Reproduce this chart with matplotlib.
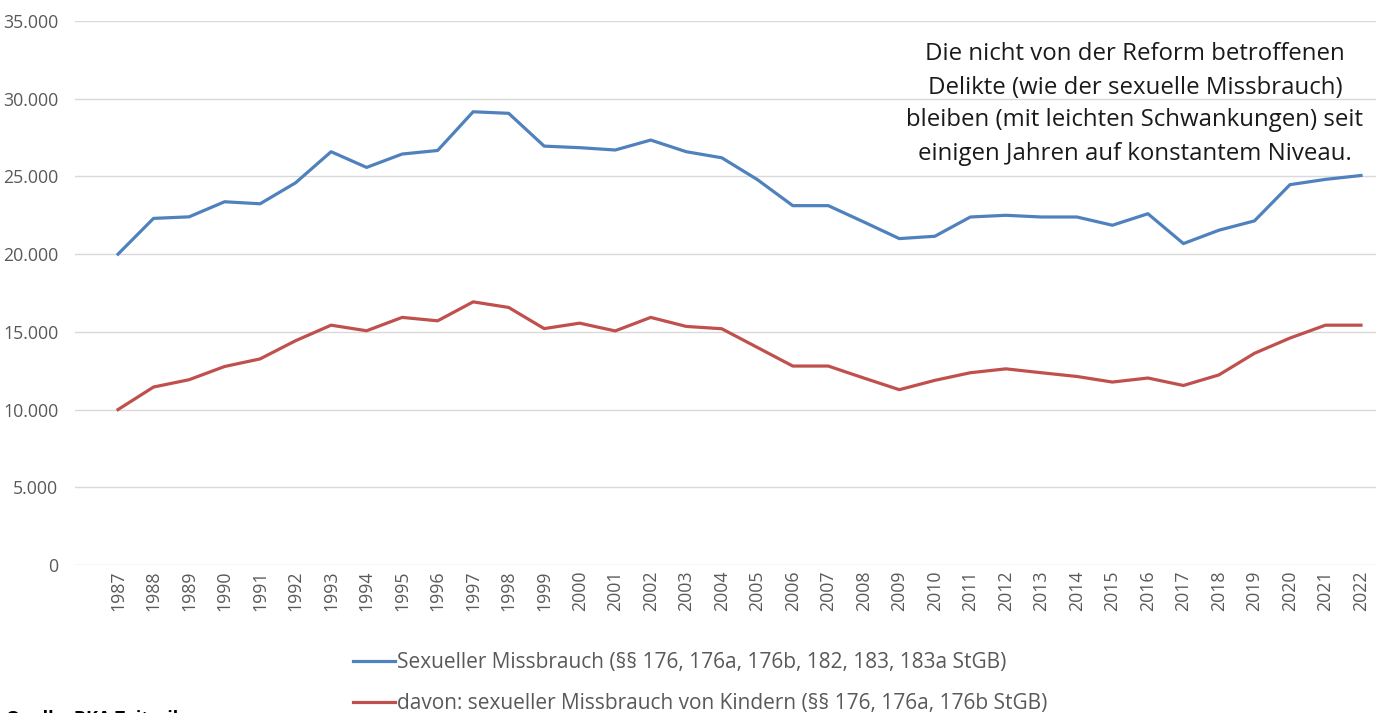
import matplotlib
matplotlib.use("Agg")
import matplotlib.pyplot as plt

years = list(range(1987, 2023))

gesamt = [20000, 22300, 22400, 23370, 23240, 24590, 26590, 25580, 26440, 26670,
          29160, 29060, 26950, 26850, 26700, 27340, 26590, 26200, 24800, 23120,
          23120, 22070, 21000, 21150, 22390, 22500, 22390, 22390, 21860, 22600,
          20680, 21540, 22140, 24470, 24810, 25060]

kinder = [10000, 11450, 11920, 12770, 13260, 14430, 15430, 15070, 15930, 15710,
          16930, 16570, 15210, 15560, 15060, 15930, 15350, 15200, 14000, 12800,
          12800, 12030, 11280, 11880, 12370, 12620, 12370, 12130, 11770, 12030,
          11550, 12230, 13620, 14600, 15430, 15430]

yticks = [0, 5000, 10000, 15000, 20000, 25000, 30000, 35000]
ytick_labels = ["0", "5.000", "10.000", "15.000", "20.000", "25.000", "30.000", "35.000"]

label_gesamt = "Sexueller Missbrauch (§§ 176, 176a, 176b, 182, 183, 183a StGB)"
label_kinder = "davon: sexueller Missbrauch von Kindern (§§ 176, 176a, 176b StGB)"
note = ("Die nicht von der Reform betroffenen\n"
        "Delikte (wie der sexuelle Missbrauch)\n"
        "bleiben (mit leichten Schwankungen) seit\n"
        "einigen Jahren auf konstantem Niveau.")

plt.rcParams["font.family"] = ["Open Sans", "DejaVu Sans"]

fig = plt.figure(figsize=(13.76, 7.13), dpi=100)
ax = fig.add_axes([75 / 1376, 1 - 565 / 713, 1 - 75 / 1376, (565 - 21) / 713])

l1, = ax.plot(years, gesamt, color="#4F81BD", lw=2.3)
l2, = ax.plot(years, kinder, color="#C0504D", lw=2.3)

ax.set_ylim(0, 35000)
ax.set_xlim(1987 - 43 / 35.5, 2022 + 15 / 35.5)
ax.set_yticks(yticks)
ax.set_yticklabels(ytick_labels)
ax.set_xticks(years)
ax.set_xticklabels([str(y) for y in years], rotation=90)
ax.tick_params(axis="both", length=0, labelcolor="#595959", labelsize=12.8)
ax.tick_params(axis="y", pad=12)
ax.tick_params(axis="x", pad=4)
ax.grid(axis="y", color="#D9D9D9", lw=1)
ax.set_axisbelow(True)
for s in ax.spines.values():
    s.set_visible(False)

fig.text(1135 / 1376, 1 - 104 / 713, note, ha="center", va="center",
         fontsize=17.3, color="#1a1a1a", linespacing=1.5)

fig.legend([l1, l2], [label_gesamt, label_kinder], loc="upper left",
           bbox_to_anchor=(353 / 1376, 1 - 652 / 713), frameon=False,
           handlelength=2.0, handletextpad=0.1, labelspacing=0.95,
           fontsize=15, labelcolor="#595959", borderaxespad=0, borderpad=0)

fig.text(0.004, 1 - 719 / 713, "Quelle: BKA Zeitreihen", ha="left", va="center",
         fontsize=13, fontweight="bold", color="#000000")

fig.savefig("out.png", dpi=100)
